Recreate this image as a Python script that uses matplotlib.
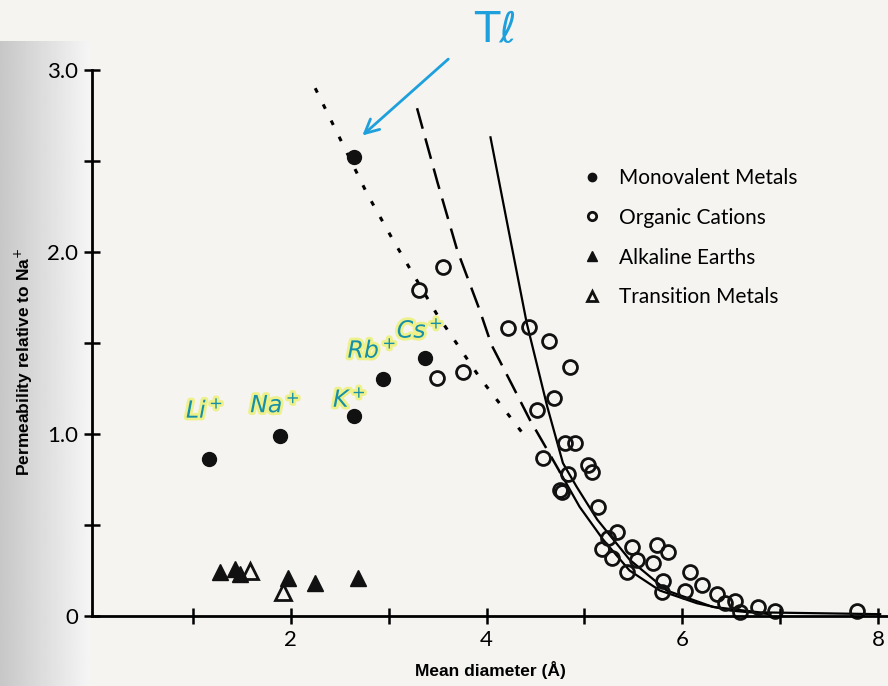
import numpy as np
from matplotlib import pyplot as plt
from matplotlib import patheffects as pe

""" =======================  Data read off the figure  ======================= """
# monovalent metals (Li, Na, K, Rb, Cs) and Tl
mono_x = [1.16, 1.89, 2.65, 2.94, 3.37, 2.65]
mono_y = [0.86, 0.99, 1.10, 1.30, 1.42, 2.52]

organic_x = [3.31, 3.55, 3.49, 3.76, 4.22, 4.43, 4.64, 4.85, 4.69, 4.51,
             4.80, 4.90, 4.58, 5.04, 5.08, 4.83, 4.75, 4.77, 5.14, 5.24,
             5.33, 5.18, 5.49, 5.28, 5.54, 5.43, 5.74, 5.85, 5.70, 5.80,
             5.79, 6.08, 6.03, 6.20, 6.35, 6.44, 6.54, 6.59, 6.77, 6.95, 7.78]
organic_y = [1.79, 1.92, 1.31, 1.34, 1.58, 1.59, 1.51, 1.37, 1.20, 1.13,
             0.95, 0.95, 0.87, 0.83, 0.79, 0.78, 0.69, 0.68, 0.60, 0.43,
             0.46, 0.37, 0.38, 0.32, 0.31, 0.24, 0.39, 0.35, 0.29, 0.19,
             0.13, 0.24, 0.14, 0.17, 0.12, 0.07, 0.08, 0.02, 0.05, 0.03, 0.03]

alkaline_x = [1.28, 1.43, 1.48, 1.97, 2.25, 2.69]
alkaline_y = [0.24, 0.26, 0.23, 0.21, 0.18, 0.21]

transition_x = [1.58, 1.92]
transition_y = [0.25, 0.13]

# fitted curves
dotted_x = [2.25, 2.78, 3.04, 3.49, 3.93, 4.36]
dotted_y = [2.90, 2.32, 2.07, 1.66, 1.31, 1.01]

dashed_x = [3.29, 3.50, 3.70, 3.93, 4.05, 4.27, 4.44, 4.58, 4.75]
dashed_y = [2.79, 2.38, 2.01, 1.68, 1.49, 1.26, 1.08, 0.95, 0.79]
dashed_tail_x = [4.75, 4.95, 5.19, 5.46, 5.77, 6.15, 6.49, 6.9]
dashed_tail_y = [0.79, 0.60, 0.42, 0.25, 0.14, 0.07, 0.03, 0.01]

solid_x = [4.04, 4.21, 4.41, 4.62, 4.78, 4.92, 5.13, 5.46, 5.84, 6.31, 6.79, 8.02]
solid_y = [2.63, 2.16, 1.61, 1.15, 0.84, 0.71, 0.53, 0.31, 0.14, 0.05, 0.02, 0.01]

ion_labels = ['Li$^+$', 'Na$^+$', 'K$^+$', 'Rb$^+$', 'Cs$^+$']
ion_label_x = [1.12, 1.84, 2.60, 2.83, 3.32]
ion_label_y = [1.13, 1.16, 1.19, 1.46, 1.57]

legend_names = ['Monovalent Metals', 'Organic Cations', 'Alkaline Earths', 'Transition Metals']

""" =======================  Plot  ======================= """
paper = '#f5f4f1'
fig = plt.figure(figsize=(8.88, 6.86), dpi=100, facecolor=paper)

# scan shadow on the left edge
shade = fig.add_axes([0, 0, 0.1, 0.94])
grad = np.linspace(0.78, 0.96, 100)[None, :] * np.ones((10, 1))
shade.imshow(grad, cmap='gray', vmin=0, vmax=1, aspect='auto', extent=[0, 1, 0, 1])
shade.axis('off')

ax = fig.add_axes([92 / 888, 70 / 686, 796 / 888, 546 / 686])
ax.set_facecolor('none')

ax.plot(dotted_x, dotted_y, color='black', lw=2.2, linestyle=(0, (1.6, 4.3)))
ax.plot(dashed_x, dashed_y, color='black', lw=1.8, linestyle=(0, (8.5, 4)))
ax.plot(dashed_tail_x, dashed_tail_y, color='black', lw=1.6)
ax.plot(solid_x, solid_y, color='black', lw=1.6)

ax.plot(mono_x, mono_y, 'o', color='#111111', ms=10, label=legend_names[0], clip_on=False)
ax.plot(organic_x, organic_y, 'o', mfc='none', mec='#111111', mew=2, ms=10,
        label=legend_names[1], clip_on=False)
ax.plot(alkaline_x, alkaline_y, '^', color='#111111', ms=11, label=legend_names[2], clip_on=False)
ax.plot(transition_x, transition_y, '^', mfc='none', mec='#111111', mew=2, ms=11,
        label=legend_names[3], clip_on=False)

ax.set_xlim(-0.03, 8.1)
ax.set_ylim(0, 3.0)

for s in ['top', 'right']:
    ax.spines[s].set_visible(False)
for s in ['left', 'bottom']:
    ax.spines[s].set_linewidth(2)

ax.set_yticks(np.arange(0, 3.01, 0.5))
ax.set_yticklabels(['0', '', '1.0', '', '2.0', '', '3.0'])
ax.set_xticks(np.arange(1, 9))
ax.set_xticklabels(['', '2', '', '4', '', '6', '', '8'])
ax.tick_params(direction='inout', length=12, width=1.8, labelsize=16, pad=4)
for lab in ax.get_xticklabels() + ax.get_yticklabels():
    lab.set_family('Lato')

ax.set_xlabel('Mean diameter (Å)', fontsize=12.5, fontweight='bold',
              family='Liberation Sans', labelpad=8)
ax.set_ylabel('Permeability relative to Na$^{+}$', fontsize=12.5, fontweight='bold',
              family='Liberation Sans')
ax.yaxis.set_label_coords(-0.072, 0.465)

leg = ax.legend(loc='upper left', bbox_to_anchor=(0.597, 0.855), frameon=False,
                prop={'family': 'Lato', 'size': 15}, handlelength=0.6,
                handletextpad=1.0, labelspacing=0.95, markerscale=0.6)

# handwritten annotations
hand_teal = '#1590a8'
for name, lx, ly in zip(ion_labels, ion_label_x, ion_label_y):
    ax.text(lx, ly, name, color=hand_teal, fontsize=17, style='italic',
            ha='center', va='center',
            path_effects=[pe.withStroke(linewidth=4, foreground='#eef08a')])

ax.annotate('', xy=(2.71, 2.63), xytext=(3.63, 3.07),
            arrowprops=dict(arrowstyle='->', color='#1ea0dc', lw=2, mutation_scale=25),
            annotation_clip=False)
ax.text(4.09, 3.22, 'Tℓ', color='#1ea0dc', fontsize=30, ha='center', va='center',
        clip_on=False)

plt.savefig('out.png', dpi=100, facecolor=paper)
